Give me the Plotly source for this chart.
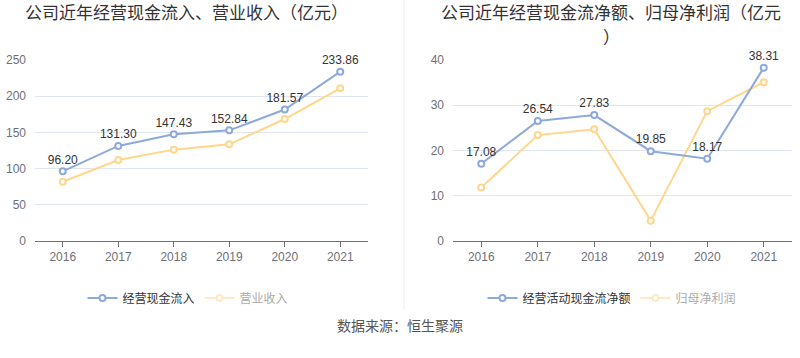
import plotly.graph_objects as go

years = ["2016", "2017", "2018", "2019", "2020", "2021"]
cash_inflow = [96.20, 131.30, 147.43, 152.84, 181.57, 233.86]
revenue = [81.9, 111.9, 126.2, 133.5, 168.5, 210.9]
net_cash_flow = [17.08, 26.54, 27.83, 19.85, 18.17, 38.31]
net_profit = [11.8, 23.4, 24.7, 4.5, 28.7, 35.1]

left_ticks = [0, 50, 100, 150, 200, 250]
right_ticks = [0, 10, 20, 30, 40]

BLUE = "#8DA9DB"
YELLOW = "#FFD68C"
YELLOW_FADED = "#FFE8C4"
FONT = "Liberation Sans, Noto Sans CJK SC, sans-serif"
CJK = "Noto Sans CJK SC, sans-serif"

W, H = 800, 358

def py(px):
    return (H - px) / H

def pxx(px):
    return px / W

fig = go.Figure()

def line_trace(x, y, color, name, xa, ya, labels, legend, showlegend=True):
    return go.Scatter(
        x=x, y=y, name=name, xaxis=xa, yaxis=ya, legend=legend,
        mode="lines+markers+text" if labels else "lines+markers",
        text=[f"{v:.2f}" for v in y] if labels else None,
        textposition="top center",
        textfont=dict(size=12, color="#333333", family=FONT),
        line=dict(color=color, width=2),
        marker=dict(symbol="circle", size=6, color="white",
                    line=dict(color=color, width=2)),
        showlegend=showlegend, cliponaxis=False,
    )

# Left chart
fig.add_trace(line_trace(years, revenue, YELLOW, "营业收入", "x", "y", False, "legend", showlegend=False))
fig.add_trace(line_trace(years, cash_inflow, BLUE, "经营现金流入", "x", "y", True, "legend"))
fig.add_trace(go.Scatter(x=[None], y=[None], xaxis="x", yaxis="y", legend="legend",
                         name="<span style='color:#aaaaaa'>营业收入</span>",
                         mode="lines+markers", line=dict(color=YELLOW_FADED, width=2),
                         marker=dict(size=6, color="white", line=dict(color=YELLOW_FADED, width=2))))

# Right chart
fig.add_trace(line_trace(years, net_profit, YELLOW, "归母净利润", "x2", "y2", False, "legend2", showlegend=False))
fig.add_trace(line_trace(years, net_cash_flow, BLUE, "经营活动现金流净额", "x2", "y2", True, "legend2"))
fig.add_trace(go.Scatter(x=[None], y=[None], xaxis="x2", yaxis="y2", legend="legend2",
                         name="<span style='color:#aaaaaa'>归母净利润</span>",
                         mode="lines+markers", line=dict(color=YELLOW_FADED, width=2),
                         marker=dict(size=6, color="white", line=dict(color=YELLOW_FADED, width=2))))

xaxis_common = dict(
    type="category", range=[-0.5, 5.5], showgrid=False, showline=True,
    linecolor="#6E7079", linewidth=1, ticks="outside", ticklen=5, tickcolor="#6E7079",
    tickfont=dict(size=12, color="#6E7079", family=FONT), fixedrange=True, automargin=False,
)
yaxis_common = dict(
    showgrid=True, gridcolor="#E0E6F1", gridwidth=1, showline=False, zeroline=False,
    ticks="", tickfont=dict(size=12, color="#6E7079", family=FONT), ticklabelstandoff=8,
    automargin=False, fixedrange=True,
)

ydom = [py(241), py(60)]
fig.update_layout(
    width=W, height=H,
    margin=dict(l=0, r=0, t=0, b=0, autoexpand=False),
    paper_bgcolor="white", plot_bgcolor="white",
    xaxis=dict(domain=[pxx(35), pxx(368)], anchor="y", **xaxis_common),
    yaxis=dict(domain=ydom, anchor="x", range=[0, 250], tickvals=left_ticks, **yaxis_common),
    xaxis2=dict(domain=[pxx(453), pxx(792)], anchor="y2", **xaxis_common),
    yaxis2=dict(domain=ydom, anchor="x2", range=[0, 40], tickvals=right_ticks, **yaxis_common),
    legend=dict(orientation="h", x=pxx(188), xanchor="center", y=py(298), yanchor="middle",
                font=dict(size=12, color="#333333", family=CJK), itemwidth=30,
                bgcolor="rgba(0,0,0,0)", traceorder="normal"),
    legend2=dict(orientation="h", x=pxx(612), xanchor="center", y=py(298), yanchor="middle",
                 font=dict(size=12, color="#333333", family=CJK), itemwidth=30,
                 bgcolor="rgba(0,0,0,0)", traceorder="normal"),
    shapes=[dict(type="line", xref="paper", yref="paper", x0=pxx(404), x1=pxx(404),
                 y0=py(310), y1=1, line=dict(color="#EEEEEE", width=1))],
    annotations=[
        dict(text="公司近年经营现金流入、营业收入（亿元）", x=pxx(186), y=py(12), xref="paper", yref="paper",
             xanchor="center", yanchor="middle", showarrow=False,
             font=dict(size=17, color="#333333", family=CJK)),
        dict(text="公司近年经营现金流净额、归母净利润（亿元", x=pxx(611), y=py(11), xref="paper", yref="paper",
             xanchor="center", yanchor="middle", showarrow=False, borderpad=0,
             font=dict(size=17, color="#333333", family=CJK)),
        dict(text="）", x=pxx(611), y=py(36), xref="paper", yref="paper",
             xanchor="center", yanchor="middle", showarrow=False, borderpad=0,
             font=dict(size=17, color="#333333", family=CJK)),
        dict(text="数据来源：恒生聚源", x=0.5, y=py(325), xref="paper", yref="paper",
             xanchor="center", yanchor="middle", showarrow=False,
             font=dict(size=14, color="#555555", family=CJK)),
    ],
)

fig.write_html("out.html", config={"displayModeBar": False},
               post_script="document.body.style.margin='0';document.body.style.padding='0';")
